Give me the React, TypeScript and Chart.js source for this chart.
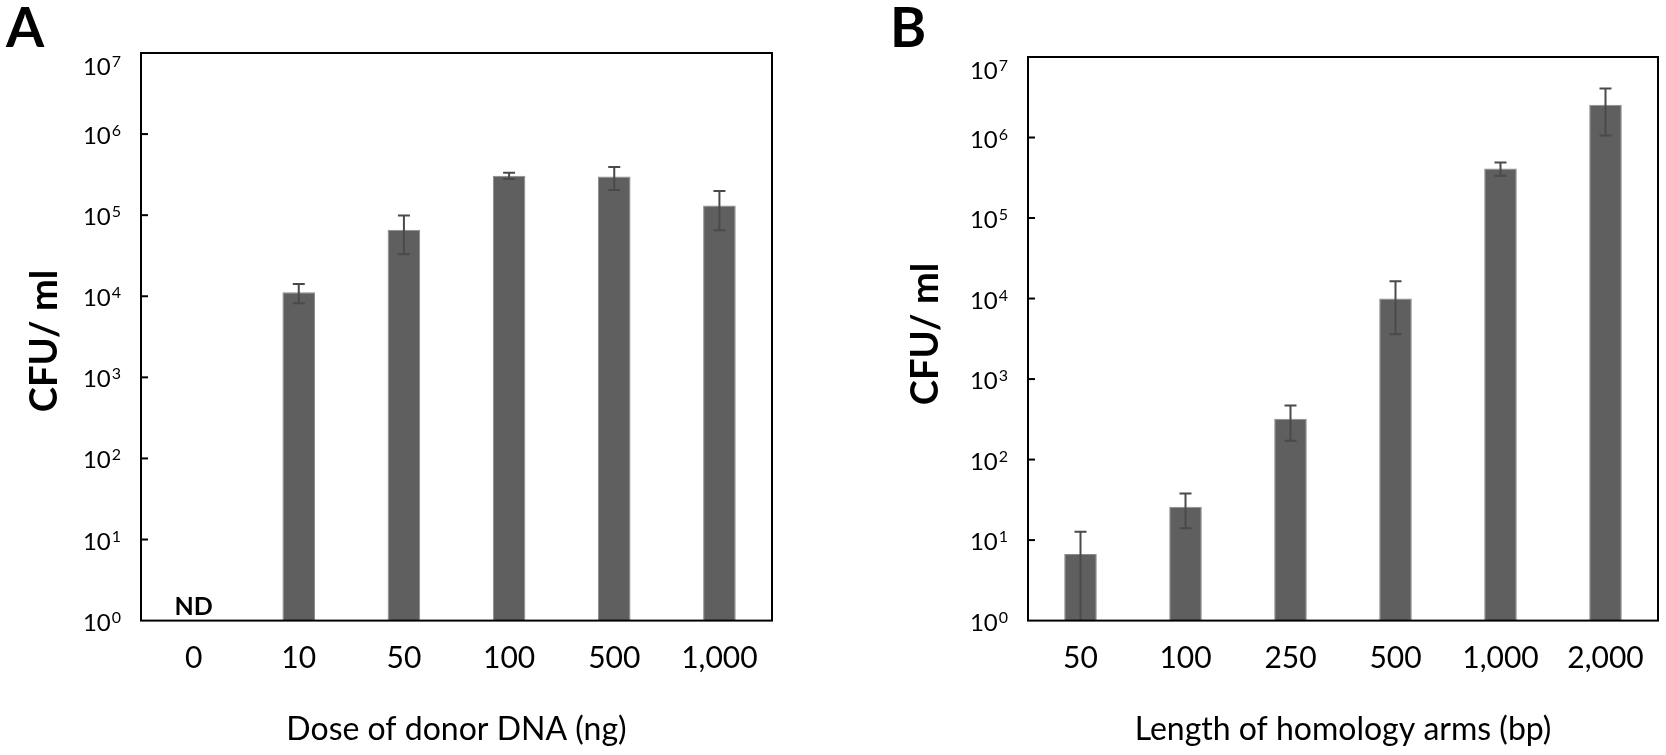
import React, { useEffect, useRef } from 'react';
import { Chart, Plugin, registerables } from 'chart.js';

Chart.register(...registerables);

// Panel A: dose of donor DNA
const doseLabels = ['0', '10', '50', '100', '500', '1,000'];
const doseCfu: (number | null)[] = [null, 1.12e4, 6.6e4, 3.07e5, 2.99e5, 1.32e5];
const doseErr: (number | null)[] = [null, 3.0e3, 3.3e4, 2.7e4, 9.5e4, 6.7e4];

// Panel B: length of homology arms
const armLabels = ['50', '100', '250', '500', '1,000', '2,000'];
const armCfu: (number | null)[] = [6.7, 26, 321, 1.0e4, 4.13e5, 2.56e6];
const armErr: (number | null)[] = [6.0, 12, 150, 6.4e3, 7.7e4, 1.5e6];

// y axis decades, 10^0 .. 10^7
const decades = [0, 1, 2, 3, 4, 5, 6, 7];

const FONT = 'Lato';

interface DecorSettings {
    letter: string;
    letterX: number;
    yTitleX: number;
    yTitleY: number;
    values: (number | null)[];
    errors: (number | null)[];
    ndIndex?: number;
}

const decor = (s: DecorSettings): Plugin<'bar'> => ({
    id: 'decor',
    afterDatasetsDraw(chart) {
        const { ctx, chartArea: a } = chart;
        const y = chart.scales.y;
        const meta = chart.getDatasetMeta(0);
        ctx.save();
        ctx.strokeStyle = '#4a4a4a';
        ctx.lineWidth = 2;
        s.values.forEach((v, i) => {
            const e = s.errors[i];
            if (v == null || e == null) return;
            const x = meta.data[i].x;
            const top = y.getPixelForValue(v + e);
            const low = v - e;
            const bottom = low > 1 ? y.getPixelForValue(low) : a.bottom;
            ctx.beginPath();
            ctx.moveTo(x, top);
            ctx.lineTo(x, bottom);
            ctx.moveTo(x - 6, top);
            ctx.lineTo(x + 6, top);
            if (low > 1) {
                ctx.moveTo(x - 6, bottom);
                ctx.lineTo(x + 6, bottom);
            }
            ctx.stroke();
        });
        ctx.restore();
    },
    afterDraw(chart) {
        const { ctx, chartArea: a } = chart;
        const y = chart.scales.y;
        ctx.save();

        // frame
        ctx.strokeStyle = '#000';
        ctx.lineWidth = 2;
        ctx.strokeRect(a.left, a.top, a.right - a.left, a.bottom - a.top);

        // inner ticks + labels 10^n
        ctx.fillStyle = '#000';
        decades.forEach((k) => {
            let py = y.getPixelForValue(10 ** k);
            if (k > 0 && k < 7) {
                ctx.beginPath();
                ctx.moveTo(a.left, py);
                ctx.lineTo(a.left + 7, py);
                ctx.stroke();
            }
            if (k === 7) py = a.top + 12;
            ctx.textAlign = 'right';
            ctx.textBaseline = 'alphabetic';
            ctx.font = `16px ${FONT}`;
            const expX = a.left - 20;
            const expW = ctx.measureText(String(k)).width;
            ctx.fillText(String(k), expX, py + 2);
            ctx.font = `24px ${FONT}`;
            ctx.fillText('10', expX - expW - 1, py + 10);
        });

        // y title
        ctx.save();
        ctx.translate(s.yTitleX, s.yTitleY);
        ctx.rotate(-Math.PI / 2);
        ctx.font = `bold 38px ${FONT}`;
        ctx.textAlign = 'center';
        ctx.textBaseline = 'alphabetic';
        ctx.fillText('CFU/ ml', 0, 0);
        ctx.restore();

        // panel letter
        ctx.font = `bold 55px ${FONT}`;
        ctx.textAlign = 'left';
        ctx.textBaseline = 'alphabetic';
        ctx.fillText(s.letter, s.letterX, 47);

        // not detected marker
        if (s.ndIndex != null) {
            const nx = chart.scales.x.getPixelForValue(s.ndIndex);
            ctx.font = `bold 25px ${FONT}`;
            ctx.textAlign = 'center';
            ctx.fillText('ND', nx, a.bottom - 6);
        }
        ctx.restore();
    },
});

interface PanelProps {
    labels: string[];
    values: (number | null)[];
    xTitle: string;
    padding: { left: number; right: number; top: number; bottom: number };
    settings: DecorSettings;
}

const BarPanel: React.FC<PanelProps> = ({ labels, values, xTitle, padding, settings }) => {
    const chartRef = useRef<HTMLCanvasElement | null>(null);

    useEffect(() => {
        if (!chartRef.current) return;
        const chart = new Chart(chartRef.current, {
            type: 'bar',
            data: {
                labels,
                datasets: [
                    {
                        data: values,
                        backgroundColor: '#5f5f5f',
                        borderColor: '#8a8a8a',
                        borderWidth: 1,
                        barPercentage: 0.31,
                        categoryPercentage: 1,
                    },
                ],
            },
            options: {
                animation: false,
                responsive: true,
                maintainAspectRatio: false,
                layout: { padding },
                plugins: {
                    legend: { display: false },
                    tooltip: { enabled: false },
                },
                scales: {
                    x: {
                        grid: { display: false },
                        border: { display: false },
                        ticks: {
                            color: '#000',
                            font: { family: FONT, size: 30 },
                            padding: 12,
                            maxRotation: 0,
                            autoSkip: false,
                        },
                        title: {
                            display: true,
                            text: xTitle,
                            color: '#000',
                            font: { family: FONT, size: 32 },
                            padding: { top: 22, bottom: 0 },
                        },
                    },
                    y: {
                        type: 'logarithmic',
                        display: false,
                        min: 1,
                        max: 1e7,
                    },
                },
            },
            plugins: [decor(settings)],
        });
        return () => {
            chart.destroy();
        };
    }, []);

    return <canvas ref={chartRef} />;
};

export default function App() {
    return (
        <div style={{ position: 'absolute', left: 0, top: 0, width: 1666, height: 755, background: '#fff' }}>
            <div style={{ position: 'absolute', left: 0, top: 0, width: 833, height: 755 }}>
                <BarPanel
                    labels={doseLabels}
                    values={doseCfu}
                    xTitle="Dose of donor DNA (ng)"
                    padding={{ left: 141, right: 61, top: 53, bottom: 6 }}
                    settings={{
                        letter: 'A',
                        letterX: 6,
                        yTitleX: 57,
                        yTitleY: 341,
                        values: doseCfu,
                        errors: doseErr,
                        ndIndex: 0,
                    }}
                />
            </div>
            <div style={{ position: 'absolute', left: 833, top: 0, width: 833, height: 755 }}>
                <BarPanel
                    labels={armLabels}
                    values={armCfu}
                    xTitle="Length of homology arms (bp)"
                    padding={{ left: 195, right: 8, top: 57, bottom: 6 }}
                    settings={{
                        letter: 'B',
                        letterX: 57,
                        yTitleX: 105,
                        yTitleY: 334,
                        values: armCfu,
                        errors: armErr,
                    }}
                />
            </div>
        </div>
    );
}
